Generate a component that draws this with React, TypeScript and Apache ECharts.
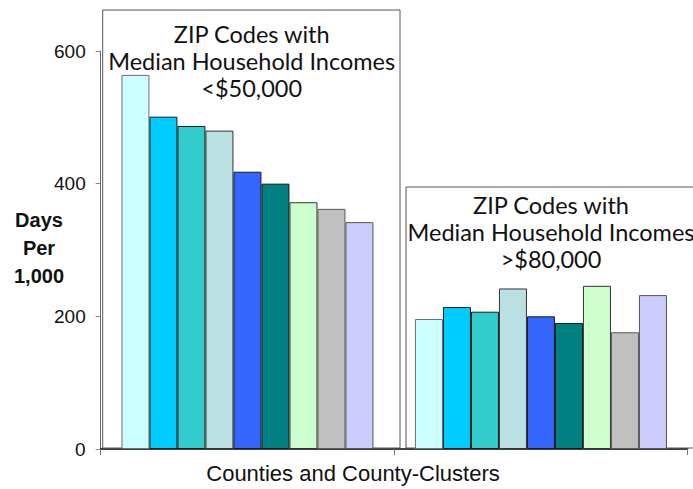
import React, { useEffect, useRef } from "react";
import * as echarts from "echarts";

const categories = ["<$50,000", ">$80,000"];
const seriesNames = [
  "Area 1", "Area 2", "Area 3", "Area 4", "Area 5",
  "Area 6", "Area 7", "Area 8", "Area 9",
];
const lowIncomeValues = [564, 501, 487, 480, 418, 400, 372, 362, 342];
const highIncomeValues = [196, 214, 207, 242, 200, 190, 246, 176, 232];
const barColors = [
  "#CCFFFF", "#00CCFF", "#33CCCC", "#BAE0E3", "#3366FF",
  "#008080", "#CCFFCC", "#C0C0C0", "#CCCCFF",
];
const borderColors = [
  "#6f6f6f", "#1a1a1a", "#1a1a1a", "#333333", "#1a1a1a",
  "#1a1a1a", "#333333", "#5a5a5a", "#555555",
];
const yTicks = [0, 200, 400, 600];
const lowTitle = ["ZIP Codes with", "Median Household Incomes", "<$50,000"];
const highTitle = ["ZIP Codes with", "Median Household Incomes", ">$80,000"];
const yTitle = ["Days", "Per", "1,000"];
const xTitle = "Counties and County-Clusters";

export default function App() {
  const ref = useRef<HTMLDivElement>(null);
  useEffect(() => {
    if (!ref.current) return;
    const chart = echarts.init(ref.current, undefined, { renderer: "svg" });
    const titleFont = "Lato, 'Open Sans', sans-serif";
    const lineText = (lines: string[], cx: number, ys: number[], font: any) =>
      lines.map((t, i) => ({
        type: "text",
        x: cx,
        y: ys[i],
        z: 10,
        style: {
          text: t,
          textAlign: "center",
          textVerticalAlign: "middle",
          fill: "#111",
          ...font,
        },
      }));
    chart.setOption({
      animation: false,
      backgroundColor: "#ffffff",
      grid: { left: 100.7, right: 5.3, top: 51, bottom: 40, containLabel: false },
      xAxis: {
        type: "category",
        data: categories,
        axisLine: { show: true, lineStyle: { color: "#000", width: 1.5 } },
        axisTick: { show: true, length: 6, lineStyle: { color: "#777" } },
        axisLabel: { show: false },
        splitLine: { show: false },
      },
      yAxis: {
        type: "value",
        min: yTicks[0],
        max: yTicks[yTicks.length - 1],
        interval: 200,
        axisLine: { show: true, lineStyle: { color: "#666", width: 1 } },
        axisTick: { show: true, length: 5, lineStyle: { color: "#888" } },
        axisLabel: {
          color: "#111",
          fontSize: 19,
          fontFamily: "'Liberation Sans', Arial, sans-serif",
          margin: 15,
        },
        splitLine: { show: false },
      },
      series: seriesNames.map((name, i) => ({
        name,
        type: "bar",
        data: [lowIncomeValues[i], highIncomeValues[i]],
        barWidth: 28,
        barGap: "0%",
        z: 5,
        itemStyle: {
          color: barColors[i],
          borderColor: borderColors[i],
          borderWidth: 1,
        },
      })),
      graphic: [
        {
          type: "rect",
          z: 1,
          shape: { x: 102.7, y: 10, width: 297.3, height: 438 },
          style: { fill: "none", stroke: "#555", lineWidth: 1 },
        },
        {
          type: "rect",
          z: 1,
          shape: { x: 406, y: 187, width: 300, height: 261 },
          style: { fill: "none", stroke: "#555", lineWidth: 1 },
        },
        ...lineText(lowTitle, 251.7, [34, 61, 88], {
          fontSize: 23.5,
          lineHeight: 24,
          fontFamily: titleFont,
        }),
        ...lineText(highTitle, 551, [205, 232, 259], {
          fontSize: 23.5,
          lineHeight: 24,
          fontFamily: titleFont,
        }),
        ...lineText(yTitle, 39, [220, 248, 276], {
          fontSize: 20,
          fontWeight: "bold",
          fontFamily: "'Liberation Sans', Arial, sans-serif",
        }),
        ...lineText([xTitle], 353, [473], {
          fontSize: 22,
          fontFamily: "'Liberation Sans', Arial, sans-serif",
        }),
      ],
    });
    return () => chart.dispose();
  }, []);
  return (
    <div
      ref={ref}
      style={{ position: "fixed", left: 0, top: 0, width: 693, height: 489 }}
    />
  );
}
